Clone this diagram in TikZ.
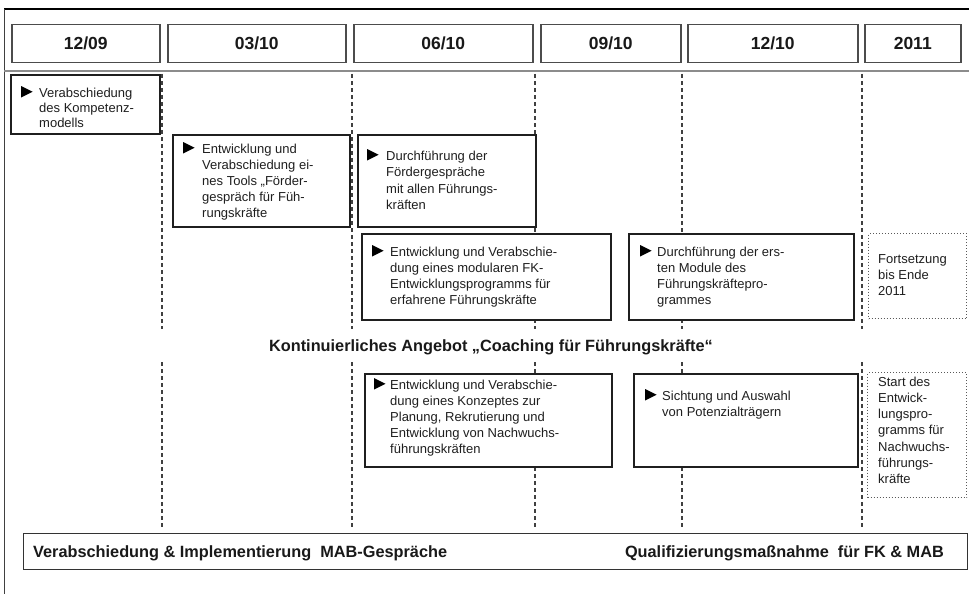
\documentclass[tikz,border=0pt]{standalone}
\usepackage{fontspec}
\setmainfont{Liberation Sans}
\usetikzlibrary{calc}
\newcommand\mlines[1]{\begin{tabular}[t]{@{}l@{}}#1\end{tabular}}
\newcommand\tri[2]{\fill[black] (#1,{#2+0.5}) -- ++(0,-11.5) -- ++(11.5,5.75) -- cycle;}
\begin{document}
\begin{tikzpicture}[x=1pt,y=-1pt,
  hdr/.style={draw=black!70, line width=1.5pt, anchor=north west, inner sep=0pt, minimum height=38pt,
    font=\fontsize{17.5}{20}\selectfont\bfseries, text=black!90},
  task/.style={draw=black!88, line width=2pt, fill=white, anchor=north west, inner sep=0pt},
  note/.style={draw=black!65, line width=1pt, dotted, fill=white, anchor=north west, inner sep=0pt},
  txt/.style={anchor=base west, inner sep=0pt, font=\fontsize{13}{16}\selectfont, text=black!88},
  big/.style={inner sep=0pt, font=\fontsize{16.3}{19}\selectfont\bfseries, text=black!90},
  tl/.style={black!75, line width=1.1pt, dash pattern=on 4pt off 3pt},
]
\useasboundingbox (0,0) rectangle (969,594);
% frame
\draw[black, line width=1.5pt] (4,9) -- (969,9);
\draw[black!75, line width=1pt] (4,9) -- (4,594);
\draw[black!45, line width=1.3pt] (4,71) -- (969,71);
% headers
\node[hdr, minimum width=148pt] (h1) at (11,24) {12/09};
\node[hdr, minimum width=178pt] (h2) at (167,24) {03/10};
\node[hdr, minimum width=179pt] (h3) at (353,24) {06/10};
\node[hdr, minimum width=140pt] (h4) at (540,24) {09/10};
\node[hdr, minimum width=170pt] (h5) at (687,24) {12/10};
\node[hdr, minimum width=96pt] (h6) at (864,24) {2011};
% time lines
\foreach \x/\n in {162/a,352/b,535/c,682/d,862/e}{
  \coordinate (u\n) at (\x,74);
  \coordinate (m\n) at (\x,329);
  \coordinate (l\n) at (\x,362);
  \coordinate (d\n) at (\x,529);
  \draw[tl] (u\n) -- (m\n);
  \draw[tl] (l\n) -- (d\n);
}
% boxes
\node[task, minimum width=149pt, minimum height=59pt] (b1) at (10,74) {};
\node[task, minimum width=177pt, minimum height=92pt] (b2) at (172,134) {};
\node[task, minimum width=178pt, minimum height=92pt] (b3) at (357,134) {};
\node[task, minimum width=249pt, minimum height=86pt] (b4) at (361,233) {};
\node[task, minimum width=225pt, minimum height=86pt] (b5) at (628,233) {};
\node[note, minimum width=98pt, minimum height=85pt] (b6) at (868,233) {};
\node[task, minimum width=247pt, minimum height=93pt] (b7) at (364,373) {};
\node[task, minimum width=224pt, minimum height=93pt] (b8) at (633,373) {};
\node[note, minimum width=99pt, minimum height=125pt] (b9) at (867,372) {};
\node[draw=black!80, line width=1.4pt, fill=white, anchor=north west, inner sep=0pt,
  minimum width=944pt, minimum height=36pt] (b10) at (23,533) {};
% texts
\tri{21}{97}
\node[txt, font=\fontsize{13}{15}\selectfont] (t1) at (39,97) {\mlines{Verabschiedung\\des Kompetenz-\\modells}};
\tri{183}{153}
\node[txt] (t2) at (202,153) {\mlines{Entwicklung und\\Verabschiedung ei-\\nes Tools „Förder-\\gespräch für Füh-\\rungskräfte}};
\tri{367}{160}
\node[txt, font=\fontsize{13}{16.5}\selectfont] (t3) at (386,160) {\mlines{Durchführung der\\Fördergespräche\\mit allen Führungs-\\kräften}};
\tri{372}{256}
\node[txt] (t4) at (390,256) {\mlines{Entwicklung und Verabschie-\\dung eines modularen FK-\\Entwicklungsprogramms für\\erfahrene Führungskräfte}};
\tri{640}{256}
\node[txt] (t5) at (657,256) {\mlines{Durchführung der ers-\\ten Module des\\Führungskräftepro-\\grammes}};
\node[txt] (t6) at (878,263) {\mlines{Fortsetzung\\bis Ende\\2011}};
\tri{374}{389}
\node[txt] (t7) at (390,389) {\mlines{Entwicklung und Verabschie-\\dung eines Konzeptes zur\\Planung, Rekrutierung und\\Entwicklung von Nachwuchs-\\führungskräften}};
\tri{645}{400}
\node[txt] (t8) at (662,400) {\mlines{Sichtung und Auswahl\\von Potenzialträgern}};
\node[txt, font=\fontsize{13}{16.3}\selectfont] (t9) at (878,386) {\mlines{Start des\\Entwick-\\lungspro-\\gramms für\\Nachwuchs-\\führungs-\\kräfte}};
\node[big, anchor=base] (coach) at (491,351) {Kontinuierliches Angebot „Coaching für Führungskräfte“};
\node[big, anchor=base west] (mab) at (33,557) {Verabschiedung \& Implementierung\ \ MAB-Gespräche};
\node[big, anchor=base east] (qual) at (944,557) {Qualifizierungsmaßnahme\ \ für FK \& MAB};
\end{tikzpicture}
\end{document}
